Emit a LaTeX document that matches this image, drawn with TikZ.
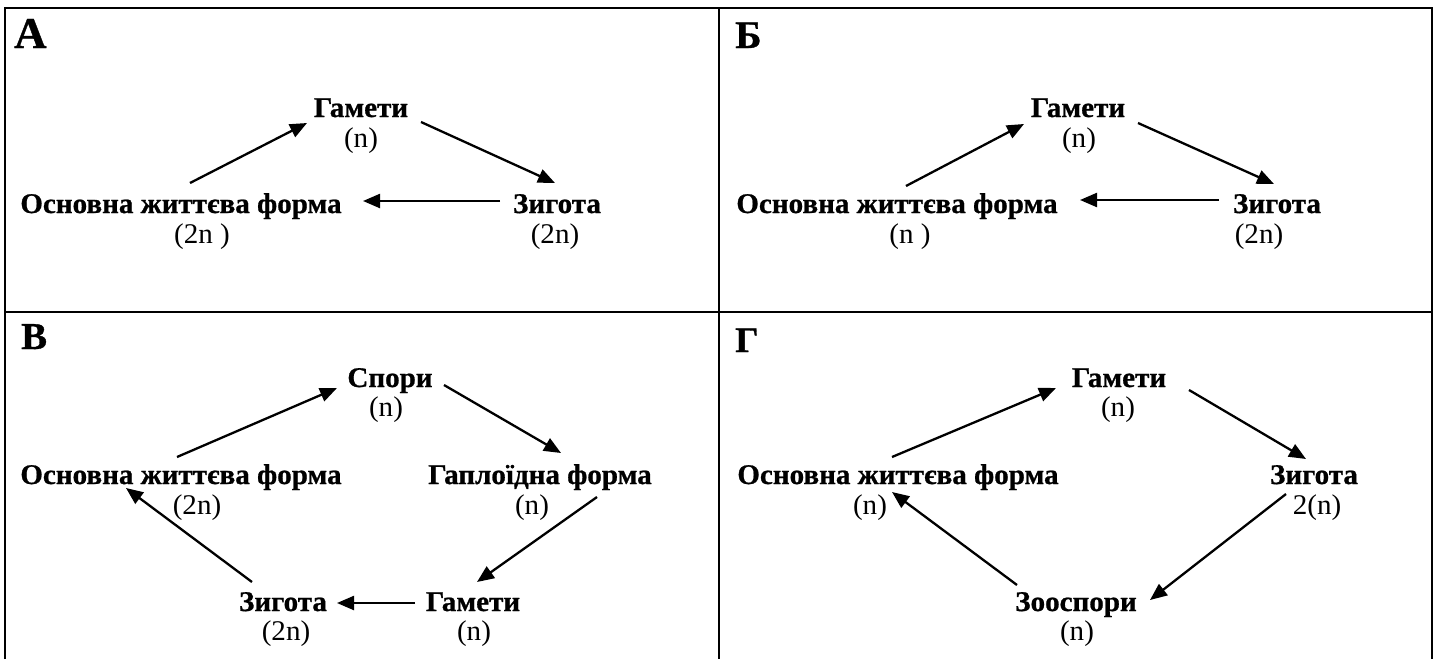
\documentclass[tikz,border=0pt]{standalone}
\usepackage{fontspec}
\setmainfont{Liberation Serif}[FakeStretch=1.02,BoldFeatures={FakeBold=0.8}]
\usetikzlibrary{arrows.meta}

\begin{document}
\begin{tikzpicture}[x=1pt,y=-1pt,
  stage/.style={anchor=base,inner sep=0pt,font=\fontsize{28.5}{28.5}\selectfont\bfseries},
  ploidy/.style={anchor=base,inner sep=0pt,font=\fontsize{28.5}{28.5}\selectfont},
  panel/.style={anchor=base west,inner sep=0pt},
  arr/.style={line width=2.3pt,-{Triangle[length=17pt,width=14pt]}},
  frame/.style={line width=2.4pt}]

\useasboundingbox (0,0) rectangle (1439,659);

% table frame
\draw[frame,line join=miter] (5,659) -- (5,8) -- (1432,8) -- (1432,659);
\draw[frame] (719,8) -- (719,659);
\draw[frame] (5,312) -- (1432,312);

% panel letters
\node[panel,font=\fontsize{44}{44}\selectfont\bfseries] (la) at (14,48) {А};
\node[panel,font=\fontsize{39}{39}\selectfont\bfseries] (lb) at (735,48) {Б};
\node[panel,font=\fontsize{38}{38}\selectfont\bfseries] (lv) at (21,349) {В};
\node[panel,font=\fontsize{36}{36}\selectfont\bfseries] (lg) at (735,352) {Г};

% ---- А ----
\node[stage] (gamA) at (361,117) {Гамети};
\node[ploidy] (pgamA) at (361,147) {(n)};
\node[stage] (osnA) at (181,213) {Основна життєва форма};
\node[ploidy] (posnA) at (202,243) {(2n )};
\node[stage] (zigA) at (557,213) {Зигота};
\node[ploidy] (pzigA) at (555,243) {(2n)};
\draw[arr] ([shift={(9,-30)}]osnA.base) -- ([shift={(-54,6)}]gamA.base);
\draw[arr] ([shift={(60,5)}]gamA.base) -- ([shift={(-2,-30)}]zigA.base);
\draw[arr] ([shift={(-57,-12)}]zigA.base) -- ([shift={(182,-12)}]osnA.base);

% ---- Б ----
\node[stage] (gamB) at (1078,117) {Гамети};
\node[ploidy] (pgamB) at (1079,147) {(n)};
\node[stage] (osnB) at (897,213) {Основна життєва форма};
\node[ploidy] (posnB) at (910,243) {(n )};
\node[stage] (zigB) at (1277,213) {Зигота};
\node[ploidy] (pzigB) at (1259,243) {(2n)};
\draw[arr] ([shift={(9,-27)}]osnB.base) -- ([shift={(-54,7)}]gamB.base);
\draw[arr] ([shift={(60,6)}]gamB.base) -- ([shift={(-3,-29)}]zigB.base);
\draw[arr] ([shift={(-58,-13)}]zigB.base) -- ([shift={(183,-13)}]osnB.base);

% ---- В ----
\node[stage] (spV) at (390,387) {Спори};
\node[ploidy] (pspV) at (386,416) {(n)};
\node[stage] (osnV) at (181,484) {Основна життєва форма};
\node[ploidy] (posnV) at (197,514) {(2n)};
\node[stage] (hapV) at (540,484) {Гаплоїдна форма};
\node[ploidy] (phapV) at (532,514) {(n)};
\node[stage] (zigV) at (283,611) {Зигота};
\node[ploidy] (pzigV) at (286,640) {(2n)};
\node[stage] (gamV) at (473,611) {Гамети};
\node[ploidy] (pgamV) at (474,640) {(n)};
\draw[arr] ([shift={(-4,-27)}]osnV.base) -- ([shift={(-53,1)}]spV.base);
\draw[arr] ([shift={(54,-2)}]spV.base) -- ([shift={(21,-31)}]hapV.base);
\draw[arr] ([shift={(57,13)}]hapV.base) -- ([shift={(4,-29)}]gamV.base);
\draw[arr] ([shift={(-58,-8)}]gamV.base) -- ([shift={(54,-8)}]zigV.base);
\draw[arr] ([shift={(-31,-29)}]zigV.base) -- ([shift={(-55,4)}]osnV.base);

% ---- Г ----
\node[stage] (gamG) at (1119,387) {Гамети};
\node[ploidy] (pgamG) at (1118,416) {(n)};
\node[stage] (osnG) at (898,484) {Основна життєва форма};
\node[ploidy] (posnG) at (870,514) {(n)};
\node[stage] (zigG) at (1314,484) {Зигота};
\node[ploidy] (pzigG) at (1317,514) {2(n)};
\node[stage] (zooG) at (1076,611) {Зооспори};
\node[ploidy] (pzooG) at (1077,640) {(n)};
\draw[arr] ([shift={(-6,-27)}]osnG.base) -- ([shift={(-63,1)}]gamG.base);
\draw[arr] ([shift={(70,3)}]gamG.base) -- ([shift={(-8,-25)}]zigG.base);
\draw[arr] ([shift={(-28,10)}]zigG.base) -- ([shift={(74,-11)}]zooG.base);
\draw[arr] ([shift={(-59,-26)}]zooG.base) -- ([shift={(-6,8)}]osnG.base);
\end{tikzpicture}
\end{document}
